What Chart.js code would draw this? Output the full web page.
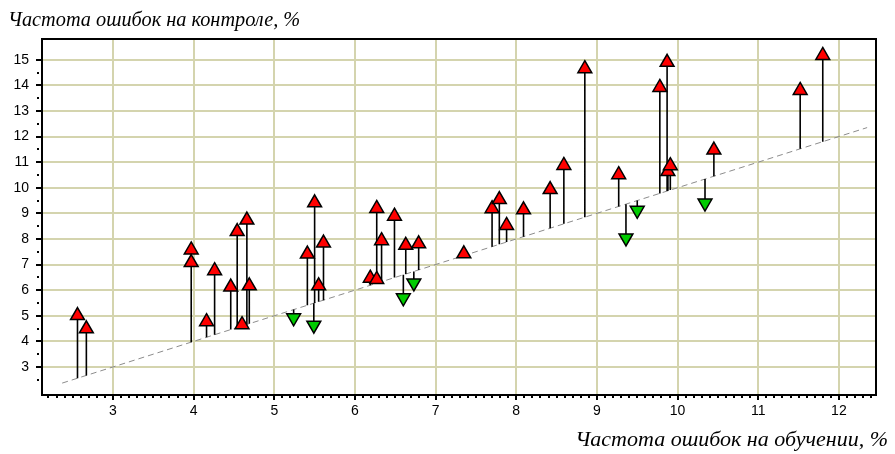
<!DOCTYPE html>
<html><head><meta charset="utf-8">
<script src="https://cdn.jsdelivr.net/npm/chart.js@4.4.1/dist/chart.umd.min.js"></script>
<style>html,body{margin:0;padding:0;background:#fff;}#wrap{width:895px;height:454px;position:relative;}</style>
</head><body><div id="wrap"><canvas id="c" width="895" height="454"></canvas></div>
<script>
// Training error (x) and control error (y) per experiment, %
const trainErr = [2.56, 2.67, 3.97, 3.97, 4.16, 4.26, 4.46, 4.54, 4.60, 4.66, 4.69,
  5.24, 5.41, 5.50, 5.49, 5.55, 5.61, 6.19, 6.27, 6.27, 6.33, 6.49, 6.60, 6.63, 6.73, 6.79,
  7.35, 7.70, 7.79, 7.88, 8.09, 8.42, 8.59, 8.85, 9.27, 9.36, 9.50, 9.78, 9.87, 9.88, 9.91,
  10.34, 10.45, 11.52, 11.80];
const controlErr = [5.01, 4.49, 7.57, 7.08, 4.77, 6.76, 6.12, 8.29, 4.65, 8.74, 6.17,
  4.92, 7.41, 9.41, 4.63, 6.17, 7.84, 6.47, 9.19, 6.42, 7.93, 8.89, 5.70, 7.75, 6.28, 7.81,
  7.42, 9.18, 9.54, 8.53, 9.14, 9.93, 10.87, 14.65, 10.51, 8.04, 9.12, 13.92, 14.90, 10.63, 10.86,
  9.40, 11.47, 13.80, 15.17];
const xTickValues = [3, 4, 5, 6, 7, 8, 9, 10, 11, 12];
const yTickValues = [3, 4, 5, 6, 7, 8, 9, 10, 11, 12, 13, 14, 15];
const diagonalEnds = [2.37, 12.35];
const yAxisTitle = 'Частота ошибок на контроле, %';
const xAxisTitle = 'Частота ошибок на обучении, %';

const markers = trainErr.map((x, i) => ({x: x, y: controlErr[i]}));
const isUp = trainErr.map((x, i) => controlErr[i] > x);
const segments = [];
trainErr.forEach((x, i) => { segments.push({x: x, y: x}, {x: x, y: controlErr[i]}, {x: x, y: null}); });
const diagonal = diagonalEnds.map(v => ({x: v, y: v}));

const decor = {
  id: 'decor',
  beforeDatasetsDraw(chart) {
    const {ctx, chartArea: a} = chart;
    ctx.save();
    ctx.strokeStyle = '#000';
    ctx.lineWidth = 2;
    ctx.strokeRect(a.left, a.top, a.right - a.left, a.bottom - a.top);
    ctx.restore();
  },
  afterDraw(chart) {
    const {ctx, chartArea: a, scales} = chart;
    const xs = scales.x, ys = scales.y;
    ctx.save();
    ctx.fillStyle = '#000';
    xTickValues.forEach(v => { const p = Math.round(xs.getPixelForValue(v)); ctx.fillRect(p - 1, a.bottom, 2, 5); });
    for (let k = 22; k <= 124; k++) {
      if (k % 10 === 0) continue;
      const p = Math.round(xs.getPixelForValue(k / 10));
      ctx.fillRect(p - 1, a.bottom + 1, 2, 2);
    }
    yTickValues.forEach(v => { const p = Math.round(ys.getPixelForValue(v)); ctx.fillRect(a.left - 6, p - 1, 6, 2); });
    for (let k = 5; k <= 29; k += 2) {
      const p = Math.round(ys.getPixelForValue(k / 2));
      ctx.fillRect(a.left - 5, p - 1, 2, 2);
    }
    ctx.textBaseline = 'alphabetic';
    ctx.font = 'italic 20.3px "Liberation Serif", "Times New Roman", serif';
    ctx.textAlign = 'left';
    ctx.fillText(yAxisTitle, 8, 26);
    ctx.font = 'italic 22px "Liberation Serif", "Times New Roman", serif';
    ctx.textAlign = 'right';
    ctx.fillText(xAxisTitle, 888, 446);
    ctx.restore();
  }
};

const tickFont = {family: '"Liberation Sans", Arial, sans-serif', size: 14};
new Chart(document.getElementById('c'), {
  type: 'line',
  data: {
    datasets: [
      {
        label: 'markers', data: markers, showLine: false,
        pointStyle: 'triangle', pointRadius: 8, pointHoverRadius: 8,
        pointRotation: ctx => (isUp[ctx.dataIndex] ? 0 : 180),
        pointBackgroundColor: ctx => (isUp[ctx.dataIndex] ? '#ff0000' : '#00cc00'),
        pointBorderColor: '#000', pointBorderWidth: 1.5
      },
      {
        label: 'segments', data: segments, borderColor: '#000', borderWidth: 1.6,
        pointRadius: 0, spanGaps: false, tension: 0, fill: false
      },
      {
        label: 'diagonal', data: diagonal, borderColor: '#8c8c8c', borderWidth: 1,
        borderDash: [6, 4], pointRadius: 0, fill: false
      }
    ]
  },
  options: {
    responsive: false, animation: false, events: [],
    layout: {padding: {top: 39, right: 19, left: 0, bottom: 0}},
    plugins: {legend: {display: false}, tooltip: {enabled: false}, title: {display: false}},
    scales: {
      x: {
        type: 'linear', min: 2.12, max: 12.46,
        afterBuildTicks: s => { s.ticks = xTickValues.map(v => ({value: v})); },
        afterFit: s => { s.height = 59; },
        ticks: {font: tickFont, color: '#000', padding: 8, maxRotation: 0, autoSkip: false},
        grid: {color: '#d4d4ae', lineWidth: 2, drawTicks: false},
        border: {display: true, color: '#000', width: 2}
      },
      y: {
        type: 'linear', min: 1.905, max: 15.81,
        afterBuildTicks: s => { s.ticks = yTickValues.map(v => ({value: v})); },
        afterFit: s => { s.width = 42; },
        ticks: {font: tickFont, color: '#000', padding: 13, autoSkip: false},
        grid: {color: '#d4d4ae', lineWidth: 2, drawTicks: false},
        border: {display: true, color: '#000', width: 2}
      }
    }
  },
  plugins: [decor]
});
</script></body></html>
